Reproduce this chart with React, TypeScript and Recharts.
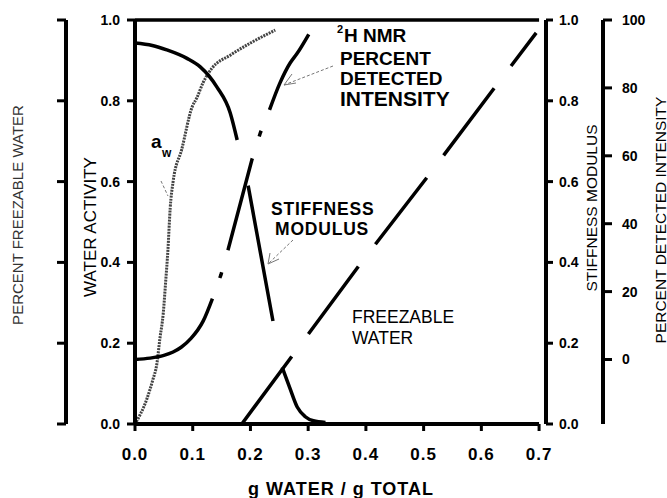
import React from 'react';
import { LineChart, Line, XAxis, YAxis, ReferenceLine } from 'recharts';

const FONT = '"Liberation Sans", Arial, Helvetica, sans-serif';

// axis ticks
const xTicks = [0, 0.1, 0.2, 0.3, 0.4, 0.5, 0.6, 0.7];
const unitTicks = [0, 0.2, 0.4, 0.6, 0.8, 1.0];
const percentTicks = [0, 20, 40, 60, 80, 100];

// water activity a_w (left inner axis)
const awX = [0, 0.02, 0.031, 0.038, 0.043, 0.049, 0.053, 0.057, 0.061, 0.066, 0.081, 0.099, 0.107, 0.118, 0.133, 0.165, 0.2, 0.243];
const awY = [0, 0.06, 0.11, 0.15, 0.21, 0.275, 0.35, 0.43, 0.535, 0.6, 0.68, 0.785, 0.807, 0.845, 0.88, 0.913, 0.943, 0.975];

// stiffness modulus (right inner axis), null = break in the trace
const stiffX = [0, 0.03, 0.055, 0.09, 0.113, 0.142, 0.165, 0.177, 0.186, 0.196, 0.239, 0.247, 0.255, 0.268, 0.281, 0.295, 0.309, 0.33];
const stiffY = [0.943, 0.937, 0.926, 0.905, 0.884, 0.834, 0.77, 0.703, null, 0.59, 0.255, null, 0.14, 0.09, 0.042, 0.018, 0.008, 0.004];

// 2H NMR percent detected intensity (right outer axis), drawn in three pieces
const nmrLowX = [0, 0.026, 0.05, 0.066, 0.08, 0.097, 0.118, 0.134];
const nmrLowY = [0, 0.4, 1.2, 2.2, 3.6, 6.2, 11.3, 17.9];
const nmrMidX = [0.134, 0.149, 0.161, 0.203, 0.217, 0.233];
const nmrMidY = [17.9, 25, 32.2, 59.1, 66.7, 73.5];
const nmrHighX = [0.233, 0.251, 0.269, 0.281, 0.301];
const nmrHighY = [73.5, 81.4, 87.4, 90.2, 95.8];

// percent freezable water (left outer axis)
const freezeX = [0.185, 0.272, 0.39, 0.511, 0.629, 0.695];
const freezeY = [0, 16.8, 39.6, 62, 84.4, 96.8];

const pts = (xs: number[], ys: (number | null)[]) => xs.map((x, i) => ({ x, y: ys[i] }));

const tickFont = { fontSize: 14, fontWeight: 700, fill: '#000', fontFamily: FONT };
const axisLine = { stroke: '#000', strokeWidth: 4 };
const tickLine = { stroke: '#000', strokeWidth: 3 };

// axis ids: recharts stacks same-side axes by id, first one next to the plot
const WA = 'l1'; // water activity
const FW = 'l2'; // percent freezable water
const ST = 'r1'; // stiffness modulus
const PD = 'r2'; // percent detected intensity

const Overlay = () => (
  <svg
    width={667}
    height={498}
    style={{ position: 'absolute', left: 0, top: 0, pointerEvents: 'none' }}
    fontFamily={FONT}
  >
    {/* axis titles */}
    <text x={17} y={215} transform="rotate(-90 17 215)" textAnchor="middle" dominantBaseline="central" fontSize={15} fill="#333">
      PERCENT FREEZABLE WATER
    </text>
    <text x={90} y={227} transform="rotate(-90 90 227)" textAnchor="middle" dominantBaseline="central" fontSize={17} fill="#000">
      WATER ACTIVITY
    </text>
    <text x={591} y={208} transform="rotate(-90 591 208)" textAnchor="middle" dominantBaseline="central" fontSize={15.5} fill="#000">
      STIFFNESS MODULUS
    </text>
    <text x={660} y={220} transform="rotate(-90 660 220)" textAnchor="middle" dominantBaseline="central" fontSize={15.5} fill="#000">
      PERCENT DETECTED INTENSITY
    </text>
    <text x={341} y={495} textAnchor="middle" fontSize={18} fontWeight={700} letterSpacing={1} fill="#000">
      g WATER / g TOTAL
    </text>

    {/* curve labels */}
    <text x={151} y={148} fontSize={19} fontWeight={700} fill="#000">a</text>
    <text x={162} y={157} fontSize={12} fontWeight={700} fill="#000">w</text>

    <text x={337} y={33} fontSize={11} fontWeight={700} fill="#000">2</text>
    <text x={344} y={42} fontSize={19} fontWeight={700} fill="#000">H NMR</text>
    <text x={340} y={65} fontSize={19} fontWeight={700} fill="#000">PERCENT</text>
    <text x={340} y={85} fontSize={19} fontWeight={700} fill="#000">DETECTED</text>
    <text x={340} y={106} fontSize={21} fontWeight={700} fill="#000">INTENSITY</text>

    <text x={271} y={215} fontSize={17.5} fontWeight={700} letterSpacing={0.8} fill="#000">STIFFNESS</text>
    <text x={275} y={235} fontSize={17.5} fontWeight={700} letterSpacing={0.8} fill="#000">MODULUS</text>

    <text x={352} y={323} fontSize={17.5} fill="#000">FREEZABLE</text>
    <text x={352} y={344} fontSize={17.5} fill="#000">WATER</text>

    {/* pointer arrows */}
    <g stroke="#777" strokeWidth={1} fill="none" strokeDasharray="3 2">
      <line x1={161} y1={181} x2={168} y2={196} />
      <line x1={333} y1={66} x2={284} y2={85} />
      <polyline points="292,74 284,85 296,83" strokeDasharray="none" />
      <line x1={293} y1={240} x2={268} y2={264} />
      <polyline points="270,253 268,264 279,259" strokeDasharray="none" />
    </g>
  </svg>
);

export default function App() {
  return (
    <div style={{ position: 'absolute', left: 0, top: 0, width: 667, height: 498, background: '#fff' }}>
      <LineChart width={667} height={498} margin={{ top: 20, right: 0, bottom: 0, left: 0 }}>
        <XAxis
          dataKey="x"
          type="number"
          domain={[0, 0.712]}
          allowDataOverflow
          ticks={xTicks}
          tickFormatter={(v: number) => v.toFixed(1)}
          axisLine={false}
          tickLine={tickLine}
          tickSize={7}
          tickMargin={17}
          height={74}
          tick={{ ...tickFont, fontSize: 17, letterSpacing: 1 }}
        />
        <YAxis
          yAxisId={WA}
          orientation="left"
          width={69}
          type="number"
          domain={[0, 1]}
          allowDataOverflow
          ticks={unitTicks}
          tickFormatter={(v: number) => v.toFixed(1)}
          axisLine={axisLine}
          tickLine={tickLine}
          tickSize={8}
          tickMargin={7}
          tick={tickFont}
        />
        <YAxis
          yAxisId={FW}
          orientation="left"
          width={66}
          type="number"
          domain={[0, 100]}
          allowDataOverflow
          ticks={percentTicks}
          tickFormatter={() => ''}
          axisLine={axisLine}
          tickLine={tickLine}
          tickSize={9}
          tick={tickFont}
        />
        <YAxis
          yAxisId={ST}
          orientation="right"
          width={57}
          type="number"
          domain={[0, 1]}
          allowDataOverflow
          ticks={unitTicks}
          tickFormatter={(v: number) => v.toFixed(1)}
          axisLine={axisLine}
          tickLine={tickLine}
          tickSize={7}
          tickMargin={6}
          tick={tickFont}
        />
        <YAxis
          yAxisId={PD}
          orientation="right"
          width={64}
          type="number"
          domain={[-19, 100]}
          allowDataOverflow
          ticks={percentTicks}
          axisLine={axisLine}
          tickLine={tickLine}
          tickSize={9}
          tickMargin={10}
          tick={tickFont}
        />

        <ReferenceLine yAxisId={WA} segment={[{ x: 0, y: 0 }, { x: 0.7, y: 0 }]} stroke="#000" strokeWidth={4} />
        <ReferenceLine yAxisId={WA} segment={[{ x: 0, y: 1 }, { x: 0.7, y: 1 }]} stroke="#000" strokeWidth={3.5} />

        <Line
          data={pts(awX, awY)}
          dataKey="y"
          yAxisId={WA}
          type="monotone"
          stroke="#444"
          strokeWidth={3}
          strokeDasharray="2 1"
          dot={false}
          activeDot={false}
          isAnimationActive={false}
        />
        <Line
          data={pts(stiffX, stiffY)}
          dataKey="y"
          yAxisId={ST}
          type="monotone"
          stroke="#000"
          strokeWidth={3.5}
          dot={false}
          activeDot={false}
          isAnimationActive={false}
        />
        <Line
          data={pts(nmrLowX, nmrLowY)}
          dataKey="y"
          yAxisId={PD}
          type="monotone"
          stroke="#000"
          strokeWidth={3.5}
          dot={false}
          activeDot={false}
          isAnimationActive={false}
        />
        <Line
          data={pts(nmrMidX, nmrMidY)}
          dataKey="y"
          yAxisId={PD}
          type="linear"
          stroke="#000"
          strokeWidth={3.5}
          strokeDasharray="0 22 6 23 95 23 6 23"
          dot={false}
          activeDot={false}
          isAnimationActive={false}
        />
        <Line
          data={pts(nmrHighX, nmrHighY)}
          dataKey="y"
          yAxisId={PD}
          type="monotone"
          stroke="#000"
          strokeWidth={3.5}
          dot={false}
          activeDot={false}
          isAnimationActive={false}
        />
        <Line
          data={pts(freezeX, freezeY)}
          dataKey="y"
          yAxisId={FW}
          type="linear"
          stroke="#000"
          strokeWidth={3.5}
          strokeDasharray="84 28"
          dot={false}
          activeDot={false}
          isAnimationActive={false}
        />
      </LineChart>
      <Overlay />
    </div>
  );
}
